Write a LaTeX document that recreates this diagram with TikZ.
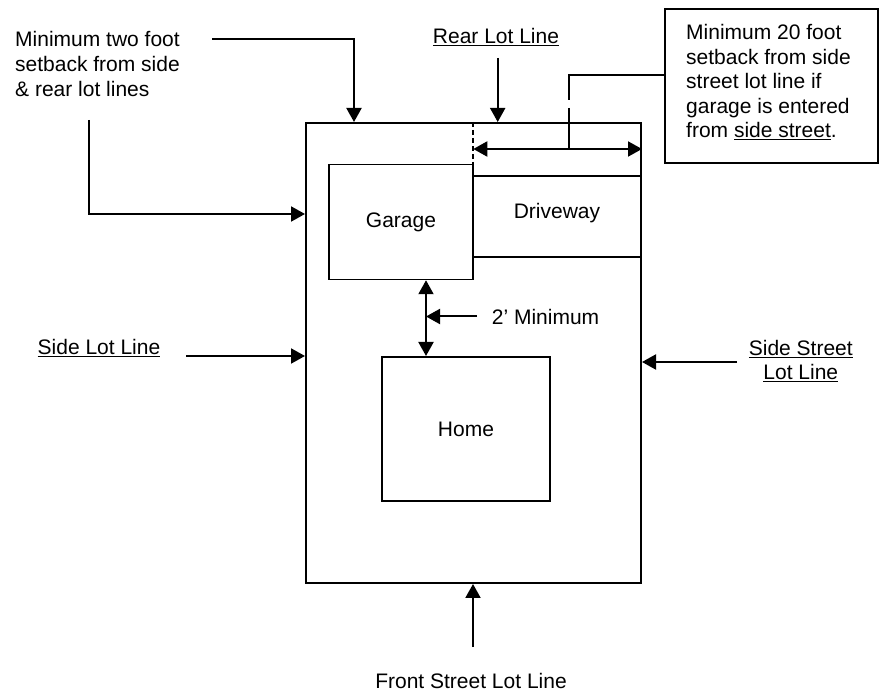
\documentclass[tikz,border=0pt]{standalone}
\usepackage{fontspec}
\setmainfont{Liberation Sans}
\usetikzlibrary{arrows.meta}
\begin{document}
\begin{tikzpicture}[x=1pt,y=-1pt,
  txt/.style={font=\fontsize{21}{24.5}\selectfont, inner sep=0pt},
  box/.style={draw, line width=2pt, inner sep=0pt},
  thinbox/.style={draw, line width=1.5pt, inner sep=0pt},
  arr/.style={line width=2pt, -{Triangle[length=14pt,width=15pt]}},
  dbl/.style={line width=2pt, {Triangle[length=14pt,width=15pt]}-{Triangle[length=14pt,width=15pt]}},
  lead/.style={line width=1.5pt},
  dashline/.style={line width=2pt, dash pattern=on 5pt off 3pt}]
\useasboundingbox (0,0) rectangle (879,692);

% main shapes
\node[box, minimum width=335pt, minimum height=460pt] (lot) at (473.5,353) {};
\node[thinbox, txt, minimum width=144pt, minimum height=115pt] (garage) at (401,222) {Garage};
\node[thinbox, txt, text depth=12pt, minimum width=168pt, minimum height=81pt] (drive) at (557,216.5) {Driveway};
\node[box, txt, minimum width=168pt, minimum height=144pt] (home) at (466,429) {Home};
\node[box, minimum width=213pt, minimum height=154pt] (note) at (771.5,86) {};

% texts (base anchor of a multi-line node = baseline of its last line)
\node[txt, font=\fontsize{21}{25}\selectfont, anchor=base west, align=left] (minlbl) at (15,96.7) {Minimum two foot\\setback from side\\\& rear lot lines};
\node[txt, anchor=base west, align=left] (notetxt) at (686,137.6) {Minimum 20 foot\\setback from side\\street lot line if\\garage is entered\\from \underline{side street}.};
\node[txt, anchor=base] (rearlbl) at (496,43.3) {\underline{Rear Lot Line}};
\node[txt, anchor=base] (sidelbl) at (99,355) {\underline{Side Lot Line}};
\node[txt, anchor=base, align=center] (sslbl) at (800.8,380) {\underline{Side Street}\\\underline{Lot Line}};
\node[txt, anchor=base] (frontlbl) at (471,688) {Front Street Lot Line};
\node[txt, anchor=base west] (minimum) at (491.7,325) {2’ Minimum};

% coordinates
\coordinate (tlA) at (212,39);
\coordinate (tlB) at (354,39);
\coordinate (lA) at (89,120);
\coordinate (lB) at (89,214);
\coordinate (rearA) at (497.7,58);
\coordinate (sideA) at (186,356);
\coordinate (ssA) at (737,362);
\coordinate (frontA) at (473,647);
\coordinate (minA) at (477,316.5);
\coordinate (vx) at (426,0);
\coordinate (dashx) at (473.3,0);
\coordinate (dimy) at (0,149);
\coordinate (ldA) at (569,75);
\coordinate (ldB) at (569,100);
\coordinate (ldC) at (569,108);

% connectors
\draw[arr] (tlA) -- (tlB) -- (lot.north -| tlB);
\draw[arr] (lA) -- (lB) -- (lot.west |- lB);
\draw[arr] (rearA) -- (lot.north -| rearA);
\draw[arr] (sideA) -- (lot.west |- sideA);
\draw[arr] (ssA) -- (lot.east |- ssA);
\draw[arr] (frontA) -- (lot.south -| frontA);
\draw[arr] (minA) -- (minA -| vx);
\draw[dbl] (garage.south -| vx) -- (home.north -| vx);
\draw[dashline] (lot.north -| dashx) -- (garage.north -| dashx);
\draw[dbl] (dashx |- dimy) -- (lot.east |- dimy);
\draw[lead] (note.west |- ldA) -- (ldA) -- (ldB);
\draw[lead] (ldC) -- (ldC |- dimy);
\end{tikzpicture}
\end{document}
